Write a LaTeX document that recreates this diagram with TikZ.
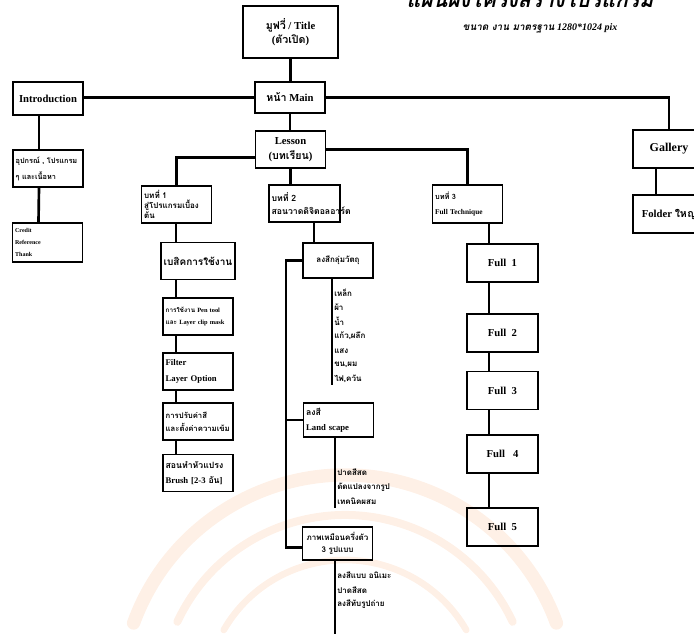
\documentclass[tikz,border=0pt]{standalone}
\usepackage{fontspec}
\setmainfont{Liberation Serif}
\newfontfamily\thfont[Script=Thai]{Loma}
\usetikzlibrary{calc}

\newcommand\bxfont{\fontsize{8}{11}\selectfont\bfseries}
\newcommand\itemsfont{\fontsize{6}{7}\selectfont\bfseries\thfont}

\tikzset{
  box/.style={draw,line width=1.2pt,inner sep=2pt,align=center,font=\bxfont,
    minimum width=52.5pt,minimum height=27.75pt},
  lbox/.style={box,align=left,text width=48.5pt},
  link/.style={line width=2pt},
  item/.style={anchor=west,inner sep=0pt,font=\itemsfont},
  wmark/.style={draw={rgb,255:red,254;green,240;blue,230},line cap=round},
}

\begin{document}
\begin{tikzpicture}[x=0.75pt,y=-0.75pt]
  \useasboundingbox (0,0) rectangle (694,634);
  %ลายน้ำ
    \draw[wmark,line width=10pt] (345,700) ++(200:225) arc (200:340:225);
    \draw[wmark,line width=6pt] (345,700) ++(205:185) arc (205:335:185);
    \draw[wmark,line width=5pt] (345,700) ++(210:140) arc (210:330:140);
  %หัวเรื่อง
    \node[anchor=base,inner sep=0pt,font=\fontsize{16}{18}\selectfont\bfseries\itshape\thfont] (head) at (530,8) {แผนผังโครงสร้างโปรแกรม};
    \node[inner sep=0pt,font=\fontsize{7.5}{9}\selectfont\bfseries\itshape] (sub) at (540,28) {{\thfont ขนาด งาน มาตรฐาน} 1280*1024 pix};
  %กล่องบน
    \node[box,minimum width=71.25pt,minimum height=39pt] (title) at (290.5,32) {{\thfont มูฟวี่} / Title\\({\thfont ตัวเปิด})};
    \node[box,minimum height=23.25pt] (main) at (290,97.5) {{\thfont หน้า} Main};
    \node[box,minimum height=24.75pt] (intro) at (48,98.5) {Introduction};
    \node[lbox,font=\fontsize{5.5}{12}\selectfont\bfseries\thfont] (equip) at (48,168.5) {อุปกรณ์ , โปรแกรม\\ๆ และเนื้อหา};
    \node[lbox,minimum height=29.25pt,font=\fontsize{4.5}{9}\selectfont\bfseries] (credit) at (47.5,242.5) {Credit\\Reference\\Thank};
    \node[box] (lesson) at (290.5,149.5) {Lesson\\({\thfont บทเรียน})};
    \node[box,minimum width=54pt,minimum height=28.5pt,font=\fontsize{9}{11}\selectfont\bfseries] (gallery) at (669,149) {Gallery};
    \node[box,minimum width=54pt,minimum height=28.5pt] (folder) at (669,214) {Folder {\thfont ใหญ่}};
  %บทเรียน
    \node[lbox,font=\fontsize{6}{7.5}\selectfont\bfseries\thfont] (b1) at (176.5,204.5) {บทที่ 1\\สู่โปรแกรมเบื้อง\\ต้น};
    \node[lbox,text width=49.25pt,font=\fontsize{6.5}{10}\selectfont\bfseries\thfont] (b2) at (304.5,203.5) {บทที่ 2\\สอนวาดดิจิตอลอาร์ต};
    \node[lbox,minimum height=28.5pt,font=\fontsize{5.5}{11}\selectfont\bfseries] (b3) at (467.5,204) {{\thfont บทที่ 3}\\Full Technique};
  %บทที่ 1
    \node[box,font=\fontsize{7.5}{9}\selectfont\bfseries\thfont] (basic) at (198,261) {เบสิคการใช้งาน};
    \node[lbox,font=\fontsize{4.8}{9}\selectfont\bfseries] (pen) at (198,316.5) {{\thfont การใช้งาน} Pen tool\\{\thfont และ} Layer clip mask};
    \node[lbox,font=\fontsize{6.5}{12}\selectfont\bfseries] (filter) at (198,371.5) {Filter\\Layer Option};
    \node[lbox,font=\fontsize{5.8}{10}\selectfont\bfseries\thfont] (color) at (198,421.5) {การปรับค่าสี\\และตั้งค่าความเข้ม};
    \node[lbox,font=\fontsize{6.5}{11}\selectfont\bfseries] (brush) at (198,473) {{\thfont สอนทำหัวแปรง}\\Brush [2-3 {\thfont อัน}]};
  %บทที่ 2
    \node[box,minimum height=26.25pt,font=\fontsize{6}{8}\selectfont\bfseries\thfont] (obj) at (338,260.5) {ลงสีกลุ่มวัตถุ};
    \node[lbox,minimum height=25.5pt,font=\fontsize{6.5}{11}\selectfont\bfseries] (land) at (338.5,420) {{\thfont ลงสี}\\Land scape};
    \node[box,minimum height=24.75pt,font=\fontsize{6}{9}\selectfont\bfseries\thfont] (portrait) at (337.5,543.5) {ภาพเหมือนครึ่งตัว\\3 รูปแบบ};
    \node[item] (o1) at (334,293) {เหล็ก};
    \node[item] (o2) at (334,307) {ผ้า};
    \node[item] (o3) at (334,321) {น้ำ};
    \node[item] (o4) at (334,336) {แก้ว,ผลึก};
    \node[item] (o5) at (334,351) {แสง};
    \node[item] (o6) at (334,365) {ขน,ผม};
    \node[item] (o7) at (334,379) {ไฟ,ควัน};
    \node[item] (l1) at (337,472) {ปาดสีสด};
    \node[item] (l2) at (337,487) {ดัดแปลงจากรูป};
    \node[item] (l3) at (337,501) {เทคนิคผสม};
    \node[item] (p1) at (337,575) {ลงสีแบบ อนิเมะ};
    \node[item] (p2) at (337,590) {ปาดสีสด};
    \node[item] (p3) at (337,604) {ลงสีทับรูปถ่าย};
  %บทที่ 3
    \node[box,minimum width=53.25pt,minimum height=28.5pt] (full1) at (502.5,263) {Full\ \ 1};
    \node[box,minimum width=53.25pt,minimum height=28.5pt] (full2) at (502.5,333) {Full\ \ 2};
    \node[box,minimum width=53.25pt,minimum height=28.5pt] (full3) at (502.5,390.5) {Full\ \ 3};
    \node[box,minimum width=53.25pt,minimum height=28.5pt] (full4) at (502.5,454) {Full\ \ \ 4};
    \node[box,minimum width=53.25pt,minimum height=28.5pt] (full5) at (502.5,527) {Full\ \ 5};

  %เส้นเชื่อม
    \coordinate (colx) at (176,0);
    \coordinate (fullx) at (489,0);
    \coordinate (objx) at (314,0);
    \coordinate (spinex) at (286,0);
    \coordinate (objend) at (332,385);
    \coordinate (landend) at (335,508);
    \coordinate (portend) at (335,640);
    \draw[link] (title.south) -- (title.south |- main.north);
    \draw[link] (main.east) -| (gallery.north);
    \draw[link] (main.west) -- (main.west -| intro.east);
    \draw[link] ([xshift=-6.75pt]intro.south) -- ([xshift=-6.75pt]equip.north);
    \draw[link] ([xshift=-6.75pt]equip.south) -- ([xshift=-6.75pt]credit.north);
    \draw[link] ([xshift=-9.75pt]gallery.south) -- ([xshift=-9.75pt]folder.north);
    \draw[link] (main.south) -- (main.south |- lesson.north);
    \draw[link] ([yshift=-6pt]lesson.west) -| (b1.north);
    \draw[link] (lesson.south) -- (lesson.south |- b2.north);
    \draw[link] (lesson.east) -| (b3.north);
    \draw[link] (b1.south -| colx) -- (basic.north -| colx);
    \draw[link] (basic.south -| colx) -- (pen.north -| colx);
    \draw[link] (pen.south -| colx) -- (filter.north -| colx);
    \draw[link] (filter.south -| colx) -- (color.north -| colx);
    \draw[link] (color.south -| colx) -- (brush.north -| colx);
    \draw[link] (b3.south -| fullx) -- (full1.north -| fullx);
    \draw[link] (full1.south -| fullx) -- (full2.north -| fullx);
    \draw[link] (full2.south -| fullx) -- (full3.north -| fullx);
    \draw[link] (full3.south -| fullx) -- (full4.north -| fullx);
    \draw[link] (full4.south -| fullx) -- (full5.north -| fullx);
    \draw[link] (b2.south -| objx) -- (obj.north -| objx);
    \draw[link] (obj.west) -- (obj.west -| spinex) -- ([yshift=-3pt]portrait.west -| spinex) -- ([yshift=-3pt]portrait.west);
    \draw[link] (land.west -| spinex) -- (land.west);
    \draw[link] (obj.south -| objend) -- (objend);
    \draw[link] (land.south -| landend) -- (landend);
    \draw[link] (portrait.south -| portend) -- (portend);
\end{tikzpicture}
\end{document}
